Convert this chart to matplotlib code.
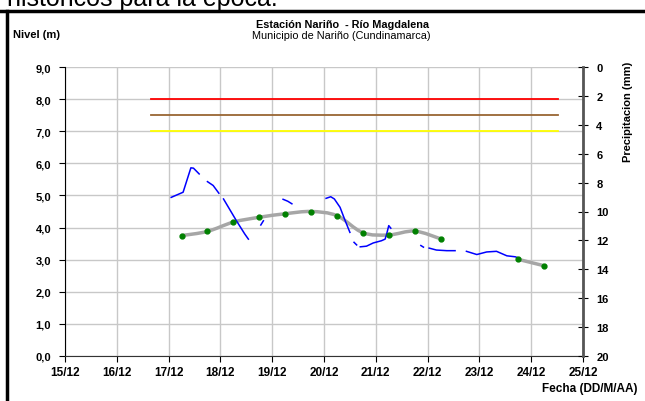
import numpy as np
import matplotlib
matplotlib.use('Agg')
import matplotlib.pyplot as plt
from matplotlib.path import Path
from matplotlib.patches import PathPatch
from matplotlib.lines import Line2D

plt.rcParams['font.family'] = ['Liberation Sans', 'DejaVu Sans']

# fechas como dia de diciembre
day_ticks = [15, 16, 17, 18, 19, 20, 21, 22, 23, 24, 25]
day_labels = ['15/12', '16/12', '17/12', '18/12', '19/12', '20/12',
              '21/12', '22/12', '23/12', '24/12', '25/12']
level_ticks = [0, 1, 2, 3, 4, 5, 6, 7, 8, 9]
level_labels = ['0,0', '1,0', '2,0', '3,0', '4,0', '5,0', '6,0', '7,0', '8,0', '9,0']
precip_ticks = [0, 2, 4, 6, 8, 10, 12, 14, 16, 18, 20]

# niveles de alerta
alert_start, alert_end = 16.66, 24.51
alert_levels = [8.0, 7.5, 7.0]
alert_colors = ['#FF0000', '#996633', '#FFFF00']

# nivel registrado (tramos con huecos = nan)
nivel_dias = [17.05, 17.28, 17.43, 17.48, 17.59, np.nan,
              17.75, 17.86, 17.97, np.nan,
              18.06, 18.31, 18.47, 18.54, np.nan,
              18.78, 18.83, np.nan,
              19.21, 19.30, 19.38, np.nan,
              20.04, 20.13, 20.20, 20.31, 20.40, 20.50, np.nan,
              20.58, 20.63, np.nan,
              20.70, 20.82, 20.95, 21.11, 21.18, 21.21, 21.25, 21.29, np.nan,
              21.87, 21.92, np.nan,
              22.03, 22.17, 22.37, 22.53, np.nan,
              22.75, 22.95, 23.14, 23.33, 23.53, 23.69, 23.78]
nivel_m = [4.94, 5.10, 5.86, 5.85, 5.67, np.nan,
           5.43, 5.31, 5.07, np.nan,
           4.89, 4.21, 3.80, 3.64, np.nan,
           4.08, 4.21, np.nan,
           4.88, 4.82, 4.74, np.nan,
           4.91, 4.96, 4.89, 4.63, 4.25, 3.85, np.nan,
           3.54, 3.46, np.nan,
           3.40, 3.42, 3.52, 3.59, 3.64, 3.80, 4.06, 3.98, np.nan,
           3.44, 3.39, np.nan,
           3.36, 3.30, 3.28, 3.28, np.nan,
           3.26, 3.16, 3.24, 3.26, 3.12, 3.09, 3.04]

# promedio (puntos verdes, linea suavizada gris)
prom_dias = [17.25, 17.75, 18.25, 18.75, 19.25, 19.75, 20.25, 20.75, 21.25, 21.75, 22.25]
prom_m = [3.75, 3.88, 4.17, 4.32, 4.43, 4.50, 4.37, 3.84, 3.77, 3.89, 3.65]
prom2_dias = [23.75, 24.25]
prom2_m = [3.01, 2.81]


def smooth_path(xs, ys):
    # curva tipo Excel: bezier con puntos de control Catmull-Rom
    pts = np.column_stack([xs, ys])
    verts = [pts[0]]
    codes = [Path.MOVETO]
    n = len(pts)
    for i in range(n - 1):
        p0 = pts[i - 1] if i > 0 else pts[i]
        p1 = pts[i]
        p2 = pts[i + 1]
        p3 = pts[i + 2] if i + 2 < n else pts[i + 1]
        c1 = p1 + (p2 - p0) / 6.0
        c2 = p2 - (p3 - p1) / 6.0
        verts += [c1, c2, p2]
        codes += [Path.CURVE4] * 3
    return Path(verts, codes)


fig = plt.figure(figsize=(6.45, 4.02), dpi=100)
ax = fig.add_axes([65 / 645, 1 - 357 / 402, 518 / 645, 289 / 402])

ax.set_xlim(15, 25)
ax.set_ylim(0, 9)
ax.set_xticks(day_ticks)
ax.set_xticklabels(day_labels, fontsize=8.5, fontweight='bold')
ax.set_yticks(level_ticks)
ax.set_yticklabels(level_labels, fontsize=8, fontweight='bold')
ax.grid(True, color='#C8C8C8', lw=1)
ax.set_axisbelow(True)
ax.tick_params(axis='y', direction='out', length=4, width=0.8, pad=6)
ax.tick_params(axis='x', direction='out', length=4, width=0.8, pad=3)
ax.spines['top'].set_visible(False)
ax.spines['right'].set_visible(False)
ax.spines['left'].set_color('black')
ax.spines['bottom'].set_color('#333333')

for lv, c in zip(alert_levels, alert_colors):
    ax.plot([alert_start, alert_end], [lv, lv], color=c, lw=1.3, zorder=3)

for xs, ys in [(prom_dias, prom_m), (prom2_dias, prom2_m)]:
    ax.add_patch(PathPatch(smooth_path(xs, ys), facecolor='none',
                           edgecolor='#A6A6A6', lw=2.5, zorder=3))

ax.plot(nivel_dias, nivel_m, color='#0000FF', lw=1.1, zorder=4)
ax.plot(prom_dias + prom2_dias, prom_m + prom2_m, ls='none', marker='o',
        ms=3.5, color='#008000', zorder=5)

ax2 = ax.twinx()
ax2.set_ylim(20, 0)
ax2.set_yticks(precip_ticks)
ax2.set_yticklabels([str(t) for t in precip_ticks], fontsize=8, fontweight='bold')
ax2.tick_params(axis='y', direction='inout', length=7, width=0.8, pad=6)
for s in ['top', 'left', 'bottom']:
    ax2.spines[s].set_visible(False)
ax2.spines['right'].set_color('#555555')
ax2.spines['right'].set_linewidth(2)

fig.text(343 / 645, 1 - 28 / 402, 'Estación Nariño  - Río Magdalena', ha='center',
         va='baseline', fontsize=7.8, fontweight='bold')
fig.text(341 / 645, 1 - 39 / 402, 'Municipio de Nariño (Cundinamarca)', ha='center',
         va='baseline', fontsize=7.8)
fig.text(13 / 645, 1 - 35 / 402, 'Nivel (m)', ha='left', va='center',
         fontsize=8, fontweight='bold')
fig.text(628 / 645, 1 - 112 / 402, 'Precipitacion (mm)', ha='center', va='center',
         rotation=90, fontsize=8, fontweight='bold')
fig.text(638 / 645, 1 - 389 / 402, 'Fecha (DD/M/AA)', ha='right', va='center',
         fontsize=8.5, fontweight='bold')

# texto del documento cortado arriba y marco
fig.text(7 / 645, 1 - 6 / 402, 'históricos para la época.', ha='left',
         va='baseline', fontsize=18)
fig.add_artist(Line2D([0, 1], [1 - 12 / 402, 1 - 12 / 402], color='black', lw=2.5,
                      transform=fig.transFigure))
fig.add_artist(Line2D([6.5 / 645, 6.5 / 645], [0, 1 - 12 / 402], color='black', lw=2.5,
                      transform=fig.transFigure))

fig.savefig('out.png', dpi=100)
